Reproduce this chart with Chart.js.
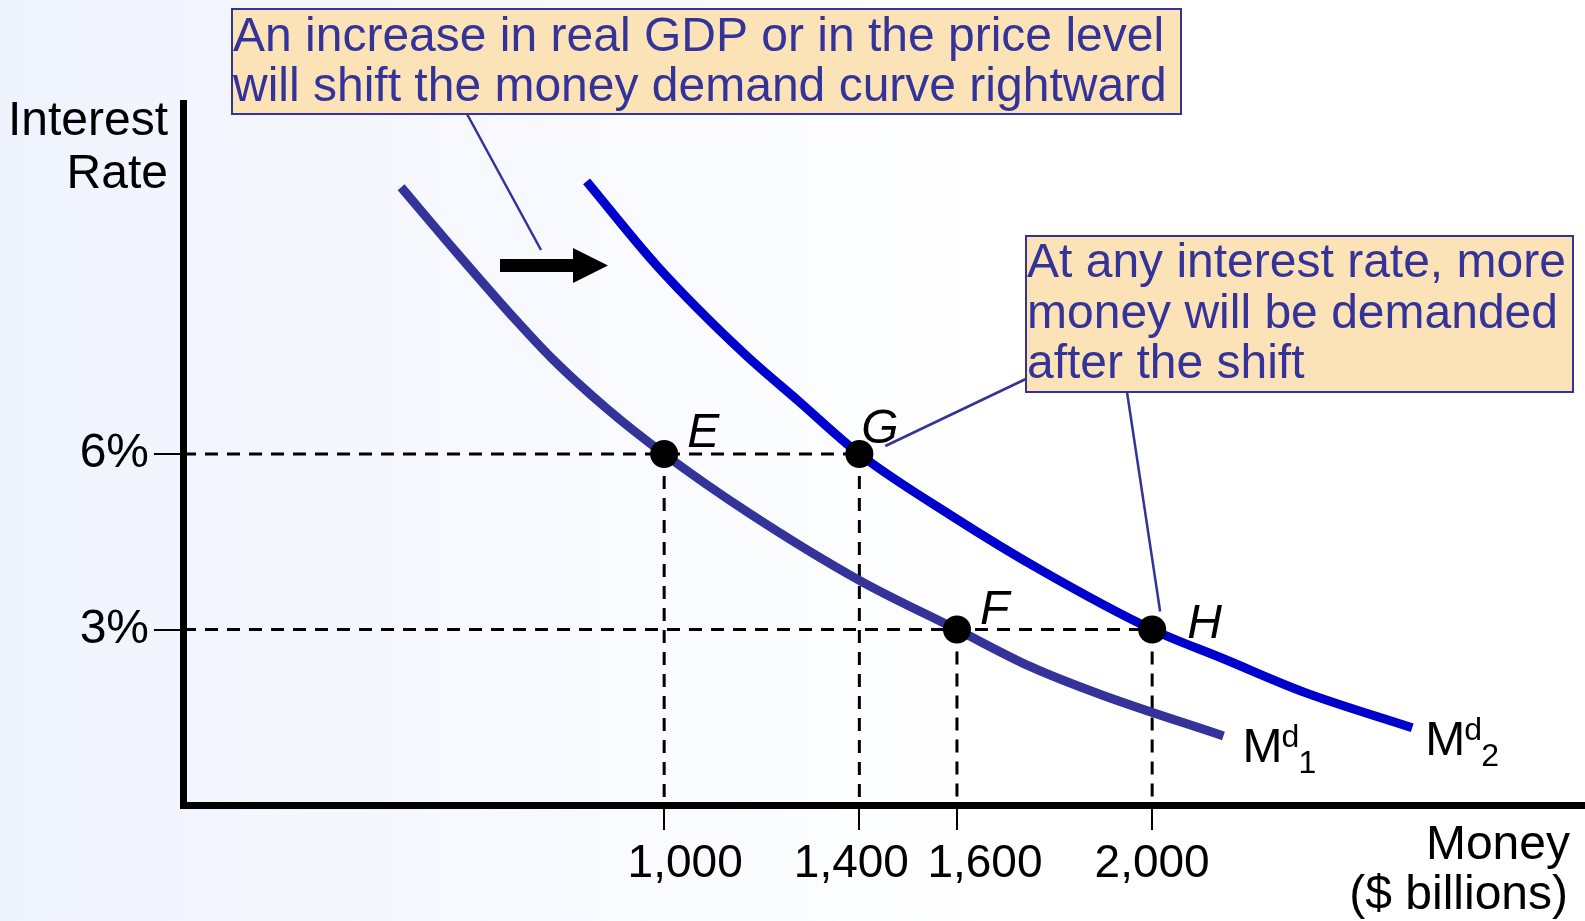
<!DOCTYPE html>
<html>
<head>
<meta charset="utf-8">
<title>Money demand shift</title>
<script src="https://cdn.jsdelivr.net/npm/chart.js@4.4.1/dist/chart.umd.min.js"></script>
<style>
  html, body { margin: 0; padding: 0; background: #fff; overflow: hidden; }
  #wrap { width: 1585px; height: 921px; }
</style>
</head>
<body>
<div id="wrap"><canvas id="chart" width="1585" height="921"></canvas></div>
<script>
// Money demand before (Md1) and after (Md2) the rightward shift

// curve Md1: money ($ billions) and interest rate (%)
const md1Money = [461, 572, 696, 768, 882, 1000, 1172, 1400, 1600, 1752, 1897, 2146];
const md1Rate  = [10.56, 9.47, 8.29, 7.65, 6.78, 6, 5.0, 3.84, 3, 2.36, 1.88, 1.18];

// curve Md2
const md2Money = [841, 986, 1162, 1276, 1400, 1586, 1773, 2000, 2146, 2311, 2533];
const md2Rate  = [10.66, 9.21, 7.73, 6.90, 6, 4.96, 4.01, 3, 2.50, 1.93, 1.32];

// labelled equilibrium points
const pointNames = ['E', 'G', 'F', 'H'];
const pointMoney = [1000, 1400, 1600, 2000];
const pointRate  = [6, 6, 3, 3];

// axis ticks
const moneyTicks = [1000, 1400, 1600, 2000];
const rateTicks  = [3, 6];

const FONT = '"Liberation Sans", Arial, Helvetica, sans-serif';
const NAVY = '#333399';
const BLUE = '#0000cc';
const X_MIN = 14, X_MAX = 2887;

function toXY(xs, ys) {
    return xs.map((x, i) => ({ x: x, y: ys[i] }));
}

const dashStyle = {
    showLine: true,
    borderColor: '#000',
    borderWidth: 3,
    borderDash: [13, 9],
    pointRadius: 0,
    order: 3
};

// dashed guides: horizontal from the axis to the last point at each rate, vertical down from each point
const guideSets = [];
rateTicks.forEach(r => {
    const far = Math.max(...pointMoney.filter((m, i) => pointRate[i] === r));
    guideSets.push({ ...dashStyle, data: [{ x: X_MIN, y: r }, { x: far, y: r }] });
});
pointMoney.forEach((m, i) => {
    guideSets.push({ ...dashStyle, data: [{ x: m, y: pointRate[i] }, { x: m, y: 0 }] });
});

// text placement tweaks (pixels)
const pointLabelOffset = {
    E: [23, -7],
    G: [2, -11],
    F: [23, -6],
    H: [35, 8]
};
// the money labels sit a little off their ticks in the original slide
const moneyLabelShift = [21, -8, 28, 0];

function drawCallout(ctx, x, y, w, h, lines, firstBaseline, lineGap) {
    ctx.fillStyle = '#fce3b7';
    ctx.fillRect(x, y, w, h);
    ctx.strokeStyle = NAVY;
    ctx.lineWidth = 2;
    ctx.strokeRect(x, y, w, h);
    ctx.fillStyle = NAVY;
    ctx.font = '48px ' + FONT;
    ctx.textAlign = 'left';
    ctx.textBaseline = 'alphabetic';
    lines.forEach((t, i) => ctx.fillText(t, x + 1, firstBaseline + i * lineGap));
}

function drawLeader(ctx, x1, y1, x2, y2) {
    ctx.strokeStyle = NAVY;
    ctx.lineWidth = 2.5;
    ctx.beginPath();
    ctx.moveTo(x1, y1);
    ctx.lineTo(x2, y2);
    ctx.stroke();
}

function drawMd(ctx, x, y, sub) {
    ctx.fillStyle = '#000';
    ctx.textAlign = 'left';
    ctx.textBaseline = 'alphabetic';
    ctx.font = '48px ' + FONT;
    ctx.fillText('M', x, y);
    const w = ctx.measureText('M').width;
    ctx.font = '32px ' + FONT;
    ctx.fillText('d', x + w - 1, y - 15);
    ctx.fillText(sub, x + w + 16, y + 11);
}

const drawings = {
    id: 'drawings',
    beforeDraw(chart) {
        const ctx = chart.ctx;
        const g = ctx.createLinearGradient(0, 0, 1000, 0);
        g.addColorStop(0, '#eff3fd');
        g.addColorStop(1, '#ffffff');
        ctx.save();
        ctx.fillStyle = g;
        ctx.fillRect(0, 0, chart.width, chart.height);
        ctx.restore();
    },
    afterDraw(chart) {
        const ctx = chart.ctx;
        const xs = chart.scales.x, ys = chart.scales.y;
        ctx.save();

        // money tick labels
        ctx.fillStyle = '#000';
        ctx.font = '46px ' + FONT;
        ctx.textAlign = 'center';
        ctx.textBaseline = 'alphabetic';
        moneyTicks.forEach((v, i) => {
            ctx.fillText(v.toLocaleString('en-US'), xs.getPixelForValue(v) + moneyLabelShift[i], 877);
        });

        // axis titles
        ctx.font = '48px ' + FONT;
        ctx.textAlign = 'right';
        ctx.fillText('Interest', 168, 135);
        ctx.fillText('Rate', 168, 188);
        ctx.fillText('Money', 1570, 859);
        ctx.fillText('($ billions)', 1568, 909);

        // point letters
        ctx.font = 'italic 48px ' + FONT;
        ctx.textAlign = 'left';
        pointNames.forEach((n, i) => {
            const px = xs.getPixelForValue(pointMoney[i]);
            const py = ys.getPixelForValue(pointRate[i]);
            const off = pointLabelOffset[n];
            ctx.fillText(n, px + off[0], py + off[1]);
        });

        // curve names at the lower ends
        const e1 = md1Money.length - 1, e2 = md2Money.length - 1;
        drawMd(ctx, xs.getPixelForValue(md1Money[e1]) + 19, ys.getPixelForValue(md1Rate[e1]) + 26, '1');
        drawMd(ctx, xs.getPixelForValue(md2Money[e2]) + 13, ys.getPixelForValue(md2Rate[e2]) + 27, '2');

        // leader lines
        const gx = xs.getPixelForValue(1400), gy = ys.getPixelForValue(6);
        const hx = xs.getPixelForValue(2000), hy = ys.getPixelForValue(3);
        drawLeader(ctx, 467, 114, 541, 250);
        drawLeader(ctx, 1030, 377, gx + 26, gy - 8);
        drawLeader(ctx, 1127, 392, hx + 8, hy - 18);

        // callouts
        drawCallout(ctx, 232, 9, 949, 105,
            ['An increase in real GDP or in the price level',
             'will shift the money demand curve rightward'], 51, 50);
        drawCallout(ctx, 1026, 236, 547, 156,
            ['At any interest rate, more',
             'money will be demanded',
             'after the shift'], 277, 50.5);

        // shift arrow
        ctx.fillStyle = '#000';
        ctx.fillRect(500, 259, 74, 13);
        ctx.beginPath();
        ctx.moveTo(573, 248);
        ctx.lineTo(608, 265.5);
        ctx.lineTo(573, 283);
        ctx.closePath();
        ctx.fill();

        ctx.restore();
    }
};

new Chart(document.getElementById('chart'), {
    type: 'scatter',
    data: {
        datasets: [
            {
                data: toXY(pointMoney, pointRate),
                pointRadius: 14,
                pointHoverRadius: 14,
                backgroundColor: '#000',
                borderWidth: 0,
                showLine: false,
                order: 0
            },
            {
                data: toXY(md1Money, md1Rate),
                showLine: true,
                borderColor: NAVY,
                borderWidth: 9,
                pointRadius: 0,
                cubicInterpolationMode: 'monotone',
                order: 1
            },
            {
                data: toXY(md2Money, md2Rate),
                showLine: true,
                borderColor: BLUE,
                borderWidth: 9,
                pointRadius: 0,
                cubicInterpolationMode: 'monotone',
                order: 2
            },
            ...guideSets
        ]
    },
    options: {
        responsive: false,
        animation: false,
        layout: { autoPadding: false, padding: { top: 103, right: 0, left: 0, bottom: 0 } },
        plugins: {
            legend: { display: false },
            tooltip: { enabled: false }
        },
        scales: {
            x: {
                type: 'linear',
                min: X_MIN,
                max: X_MAX,
                afterBuildTicks: s => { s.ticks = moneyTicks.map(v => ({ value: v })); },
                afterFit: s => { s.height = 116; s.paddingLeft = 0; s.paddingRight = 0; },
                grid: { drawOnChartArea: false, drawTicks: true, tickLength: 25, color: '#000', lineWidth: 2 },
                border: { display: true, width: 7, color: '#000' },
                ticks: { display: false }
            },
            y: {
                type: 'linear',
                min: 0,
                max: 12,
                afterBuildTicks: s => { s.ticks = rateTicks.map(v => ({ value: v })); },
                afterFit: s => { s.width = 183; },
                grid: { drawOnChartArea: false, drawTicks: true, tickLength: 29, color: '#000', lineWidth: 2 },
                border: { display: true, width: 7, color: '#000' },
                ticks: {
                    color: '#000',
                    padding: 5,
                    font: { family: FONT, size: 48, lineHeight: 1 },
                    callback: v => v + '%'
                }
            }
        }
    },
    plugins: [drawings]
});
</script>
</body>
</html>
